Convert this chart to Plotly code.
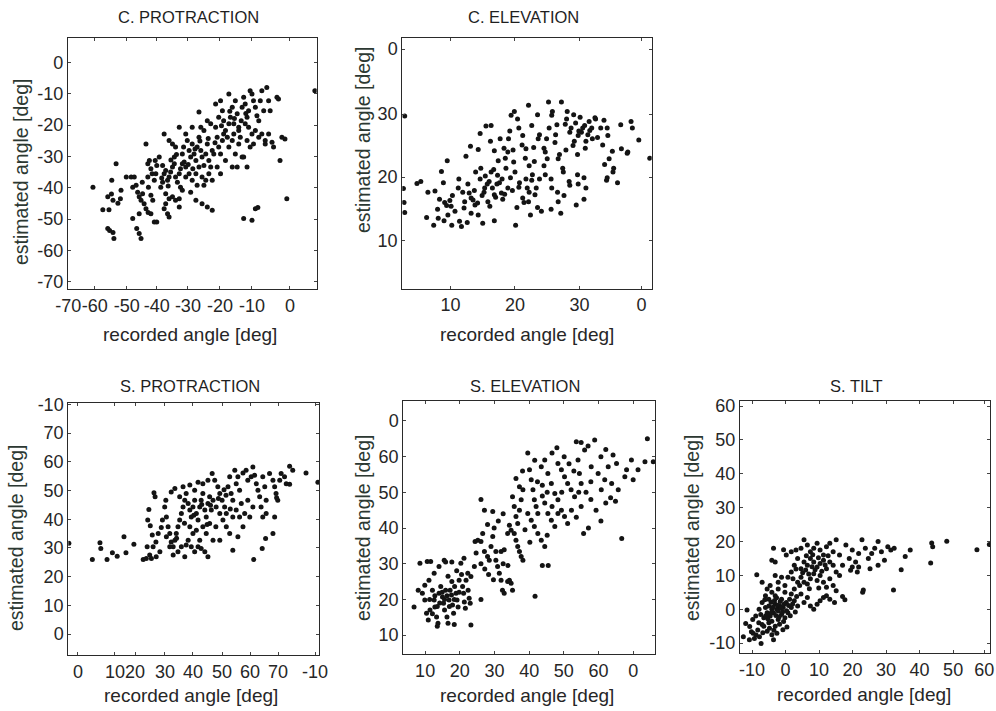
import plotly.graph_objects as go

W, H = 996, 711

# ---------------- data ----------------
c_protraction = [
    (-61.5,-39.8),(-58.3,-47.0),(-56.3,-47.0),(-56.7,-42.9),(-56.7,-53.0),(-56.1,-53.6),(-55.0,-54.3),(-54.7,-56.2),
    (-54.0,-32.3),(-55.4,-37.6),(-55.0,-44.0),(-53.4,-44.9),(-52.4,-40.8),(-50.7,-36.6),(-55.5,-42.0),(-52.6,-43.5),
    (-49.1,-36.6),(-48.1,-36.6),(-48.6,-39.8),(-47.5,-39.2),(-47.0,-41.4),(-46.5,-42.9),(-45.9,-44.0),(-45.4,-41.9),
    (-44.9,-45.1),(-45.5,-38.2),(-46.5,-48.3),(-48.6,-49.8),(-47.3,-53.0),(-46.5,-54.6),(-45.9,-56.2),(-44.3,-26.0),
    (-43.7,-32.3),(-43.2,-31.3),(-42.7,-33.9),(-42.3,-35.5),(-43.7,-36.6),(-43.5,-39.8),(-42.7,-42.4),(-42.1,-44.0),
    (-44.3,-46.7),(-43.6,-47.9),(-42.7,-48.3),(-41.6,-50.9),(-40.8,-50.9),(-41.6,-37.6),(-41.1,-35.5),(-40.8,-32.9),
    (-41.3,-31.3),
    (-40.0,-30.2),(-38.9,-32.9),(-38.4,-35.5),(-37.9,-34.5),(-37.3,-37.6),(-36.8,-36.6),(-36.3,-35.0),(-35.7,-33.4),
    (-35.1,-32.3),(-34.7,-36.6),(-34.1,-38.2),(-33.5,-35.5),(-33.1,-33.9),(-32.5,-32.3),(-39.5,-39.8),(-38.9,-38.2),
    (-37.9,-41.9),(-36.8,-43.5),(-35.7,-42.9),(-34.7,-44.0),(-33.5,-43.5),(-33.1,-39.8),(-32.5,-40.8),(-38.4,-22.8),
    (-36.8,-24.9),(-35.7,-26.0),(-34.7,-27.0),(-33.5,-20.7),(-35.1,-30.2),(-37.9,-45.1),(-37.3,-48.3),(-36.8,-49.3),
    (-38.4,-46.7),(-33.5,-46.1),(-32.5,-29.2),(-32.1,-27.0),
    (-31.4,-22.8),(-30.9,-24.9),(-30.3,-28.1),(-29.8,-30.2),(-29.3,-26.0),(-28.7,-29.2),(-28.1,-31.3),(-27.7,-27.0),
    (-27.1,-15.8),(-27.1,-23.9),(-26.5,-28.1),(-26.1,-30.2),(-25.5,-32.9),(-24.9,-29.2),(-24.4,-26.0),(-23.9,-31.3),
    (-23.3,-33.4),(-22.8,-28.1),(-31.4,-33.4),(-30.3,-35.5),(-29.3,-37.6),(-28.1,-35.5),(-27.1,-33.4),(-26.1,-36.6),
    (-24.9,-37.6),(-23.9,-35.5),(-22.8,-37.6),(-29.8,-41.4),(-28.1,-44.0),(-26.1,-45.1),(-24.4,-46.1),(-22.8,-47.2),
    (-26.5,-20.7),(-25.5,-21.7),(-24.4,-18.6),(-23.3,-19.6),(-29.3,-20.7),(-31.4,-36.6),(-27.7,-39.2),(-25.5,-39.2),
    (-21.7,-13.3),(-20.7,-17.5),(-20.1,-12.2),(-19.5,-15.4),(-19.1,-18.6),(-18.5,-21.7),(-17.9,-23.9),(-17.4,-10.1),
    (-16.9,-17.5),(-16.3,-14.3),(-15.8,-19.6),(-15.3,-12.2),(-14.7,-16.4),(-14.2,-20.7),(-13.7,-23.9),(-13.1,-14.3),
    (-21.7,-20.7),(-21.2,-23.9),(-20.7,-27.0),(-20.1,-29.2),(-19.5,-24.9),(-19.1,-22.8),(-18.5,-31.3),(-17.4,-27.0),
    (-16.3,-24.9),(-15.3,-29.2),(-14.2,-26.0),(-13.1,-30.2),(-21.2,-33.4),(-20.1,-35.5),(-16.3,-33.4),(-14.7,-33.4),
    (-14.2,-21.7),(-17.4,-19.6),(-15.8,-22.8),(-22.3,-29.2),
    (-12.6,-11.1),(-12.1,-13.3),(-11.5,-17.5),(-11.0,-15.4),(-10.5,-9.0),(-9.9,-10.1),(-9.4,-12.2),(-8.8,-14.3),
    (-8.3,-17.0),(-7.7,-18.6),(-7.2,-12.2),(-6.7,-9.0),(-6.1,-15.4),(-5.1,-8.0),(-4.5,-12.2),(-4.0,-15.4),
    (-12.1,-19.6),(-11.0,-20.7),(-9.9,-22.8),(-8.8,-21.7),(-7.7,-23.9),(-6.7,-22.8),(-5.6,-24.9),(-4.5,-22.8),
    (-11.5,-24.9),(-10.5,-27.0),(-9.4,-26.0),(-12.6,-30.2),(-11.5,-33.4),(-9.9,-50.4),(-8.8,-46.7),(-8.0,-46.3),
    (-12.6,-49.8),(-5.6,-26.0),(-3.4,-25.5),
    (-1.8,-11.1),(-1.3,-11.7),(-0.2,-23.9),(0.8,-24.4),(-0.8,-31.3),(1.4,-43.5),(10.5,-9.0),(-2.9,-27.0),
    (-36.2,-31.1),(-34.4,-29.4),(-31.9,-31.8),(-29.1,-33.9),(-26.8,-25.1),(-24.1,-24.3),(-21.9,-25.6),(-19.8,-20.2),
    (-17.1,-15.6),(-15.6,-17.9),(-13.4,-18.6),(-11.9,-16.3),(-39.2,-36.9),(-37.1,-39.4),(-30.6,-32.6),(-28.4,-27.6),
]

c_elevation = [
    (2.9,29.7),(2.7,18.2),(2.8,16.0),(2.9,14.4),(4.8,19.0),(5.4,19.3),(6.5,17.6),(7.6,17.8),(6.3,13.6),(7.4,12.4),
    (8.1,13.5),(8.6,20.9),(9.5,22.6),(8.9,19.1),(8.3,16.5),(8.0,14.9),(9.1,16.0),(9.4,15.5),(9.6,14.0),(9.9,16.3),
    (10.3,17.1),(10.1,15.4),(10.7,14.6),(9.0,13.1),(10.2,12.4),(11.4,13.0),(11.7,12.2),(12.6,12.8),(13.2,14.3),(14.3,14.0),
    (11.2,18.3),(11.3,19.7),(11.9,17.6),(12.2,16.1),(12.1,15.1),(12.7,18.9),(12.9,17.5),(13.2,16.7),(13.5,16.4),(13.8,15.6),
    (12.4,23.3),(13.1,24.9),(14.3,24.4),(14.6,26.9),(15.5,28.1),(16.3,28.2),(16.2,25.7),(16.8,24.2),(13.9,20.8),(14.7,21.4),
    (14.6,19.7),(15.3,18.3),(15.2,17.6),(15.8,16.1),(16.0,19.3),(16.3,20.8),(16.5,18.3),(16.8,17.2),(16.7,21.2),(17.3,20.3),
    (17.2,18.9),(17.9,17.5),(18.1,16.5),(18.0,19.7),(18.6,21.4),(18.9,18.3),(15.0,12.7),(16.8,13.1),(17.7,26.1),(18.3,24.6),
    (18.5,23.0),(18.9,24.0),(19.2,27.3),(19.0,26.1),(19.4,29.8),(19.9,30.4),(20.4,29.2),(20.6,27.8),(21.2,26.6),(21.1,25.1),
    (21.7,24.5),(21.6,23.0),(22.2,21.8),(20.1,12.4),(20.0,20.8),(20.7,19.1),(20.6,18.4),(21.2,16.7),(21.4,16.0),(21.7,19.7),
    (21.9,18.3),(22.2,17.6),(22.1,16.1),(22.7,20.4),(22.6,19.5),(23.3,18.3),(23.1,17.2),(23.8,19.7),(22.4,14.0),(23.5,15.2),
    (24.1,14.6),(25.6,14.9),(22.1,31.4),(23.5,29.9),(22.6,28.2),(23.8,26.7),(23.6,26.1),(24.5,24.6),(24.7,24.0),(25.3,27.8),
    (25.2,31.9),(25.8,30.4),(25.7,29.8),(26.3,26.7),(26.2,25.5),(26.9,23.6),(26.7,22.9),(27.4,21.4),(24.5,21.8),(24.7,20.4),
    (25.6,19.7),(25.7,18.3),(26.6,17.6),(26.7,16.1),(27.6,17.1),(27.1,14.3),(27.2,31.9),(28.1,30.4),(28.0,29.2),(28.7,27.8),
    (28.5,27.1),(29.2,25.7),(29.0,25.0),(29.7,23.6),(29.9,27.3),(29.8,26.6),(30.5,27.8),(30.3,27.1),(31.0,25.7),(30.8,28.2),
    (31.5,28.8),(31.3,26.7),(32.0,26.1),(31.9,27.8),(32.5,29.2),(32.4,29.4),(33.3,27.8),(27.5,20.8),(28.4,19.3),(28.5,18.7),
    (29.7,20.4),(29.8,18.9),(30.7,19.9),(31.0,18.3),(29.5,15.6),(30.7,16.5),(34.3,27.8),(34.4,26.6),(35.1,24.1),(34.6,22.9),
    (33.9,22.0),(34.3,19.9),(34.2,19.5),(35.3,21.4),(35.2,20.8),(35.9,19.1),(36.4,28.3),(36.5,24.5),(37.4,23.8),(37.5,24.0),
    (38.2,27.8),(38.0,28.8),(39.2,25.9),(40.9,23.0),
    (14.9,17.1),(15.7,18.9),(16.1,15.4),(17.0,16.8),(17.6,19.1),(18.4,17.3),(19.3,19.9),(19.6,17.9),(20.3,15.2),(13.7,17.9),
    (14.2,15.9),(15.4,20.2),(17.4,22.6),(19.8,22.4),(23.0,22.5),(25.0,22.9),(27.9,24.3),(29.4,28.6),(30.9,24.6),(31.6,27.4),
    (32.8,26.3),(33.6,25.1),(29.1,29.9),(27.8,28.4),(30.1,29.5),(26.5,28.3),(33.8,29.0),(22.9,24.7),(19.7,24.3),(24.9,26.1),
]

s_protraction = [
    (-4.0,31.6),(4.3,26.0),(7.0,31.8),(7.3,29.8),(9.5,26.0),(11.4,28.3),(13.1,27.1),(15.5,33.9),(16.2,28.3),(19.0,31.3),
    (22.3,26.0),(23.4,26.3),(25.2,26.3),
    (26.1,49.2),(26.5,47.8),(24.3,43.4),(23.9,39.7),(24.8,37.7),(25.5,34.5),(23.7,30.4),(24.6,27.5),(25.8,30.4),(26.9,26.9),
    (28.2,28.7),(26.8,32.1),(27.6,35.0),(28.7,37.1),(29.1,39.7),
    (29.9,44.3),(30.5,40.8),(31.1,37.4),(31.7,35.0),(32.2,32.1),(32.9,30.4),(33.5,32.7),(34.0,35.0),(34.6,37.4),(35.2,39.7),
    (35.8,42.0),(36.4,44.3),(37.0,46.6),(37.5,49.0),(30.5,33.9),(31.7,30.4),(32.9,27.5),(34.6,28.7),(35.8,30.4),(37.0,26.9),
    (37.5,31.0),(30.3,46.6),(32.2,49.5),(33.5,50.7),(35.2,47.8),(36.4,51.3),
    (38.2,45.5),(38.8,43.2),(39.3,40.8),(39.9,44.3),(40.5,46.6),(41.1,42.0),(41.7,39.7),(42.3,44.3),(42.8,46.6),(43.4,49.0),
    (44.1,43.2),(44.6,40.8),(45.2,45.5),(45.8,47.8),(46.4,43.2),(47.0,46.6),(38.8,37.4),(39.9,35.0),(41.1,36.2),(42.3,32.7),
    (43.4,37.4),(44.6,35.0),(45.8,38.5),(38.2,32.7),(39.3,30.4),(40.5,28.7),(41.7,30.4),(42.8,29.8),(44.1,28.7),(45.2,26.9),
    (38.8,51.9),(40.5,50.1),(41.7,52.9),(43.4,52.4),(45.2,53.6),(46.7,55.9),
    (47.6,53.6),(48.7,51.3),(49.4,49.0),(50.2,46.6),(51.1,44.3),(51.7,42.0),(52.3,51.3),(52.9,54.8),(53.4,49.0),(54.0,46.6),
    (54.7,57.1),(55.2,52.4),(55.8,54.8),(56.4,50.1),(48.1,44.3),(49.4,42.0),(50.5,39.7),(51.7,37.4),(52.9,35.0),(54.0,40.8),
    (55.2,43.2),(48.0,37.4),(49.4,32.7),(47.0,32.7),(54.0,29.2),(55.8,33.9),(56.4,40.8),(57.0,45.5),
    (57.6,56.1),(58.7,57.1),(59.3,53.6),(60.5,54.8),(61.1,58.2),(61.7,55.3),(62.3,52.4),(62.9,50.1),(63.5,47.8),(64.6,54.8),
    (65.3,51.3),(65.8,46.6),(64.0,44.3),(64.6,40.8),(65.8,42.0),(61.1,44.3),(59.3,46.6),(58.2,42.0),(60.0,40.8),(57.6,37.4),
    (61.4,26.0),(64.4,29.8),(65.6,33.3),
    (67.0,55.9),(68.2,53.6),(68.8,51.3),(69.3,49.0),(69.9,46.6),(70.6,53.6),(71.1,55.9),(72.3,54.8),(72.9,52.4),(74.1,58.5),
    (74.1,52.2),(75.2,57.1),(68.8,40.8),(68.2,35.0),(69.5,47.5),(79.9,56.1),(84.1,52.9),
    (40.2,41.4),(43.0,45.1),(46.1,44.9),(48.9,47.2),(51.6,48.4),(53.1,43.6),(36.9,38.6),(34.1,33.4),(44.9,38.2),(50.9,50.3),
]

s_elevation = [
    (6.8,17.9),(8.0,22.6),(8.5,30.1),(9.2,21.7),(9.9,19.8),(10.4,16.1),(10.9,14.2),(11.4,17.0),(10.6,30.6),(11.6,30.6),
    (12.1,22.6),(12.6,19.8),(12.8,17.9),(13.3,15.1),(13.7,13.3),(14.0,21.7),(14.5,23.6),(15.0,20.7),(15.3,18.9),(15.6,17.0),
    (15.9,22.6),(16.3,15.1),(16.6,13.3),(16.9,19.8),(17.2,22.6),(17.6,21.2),(17.9,18.4),(18.2,16.1),(18.5,23.6),(18.9,21.7),
    (19.2,19.8),(19.5,17.9),(19.8,25.4),(20.3,30.1),(20.8,23.6),(21.1,21.7),(21.3,19.3),(21.6,17.5),(21.8,25.4),(22.3,27.3),
    (22.4,22.6),(22.7,20.3),(23.0,18.9),(23.2,12.8),(9.9,24.0),(11.1,25.4),(12.6,27.3),(14.0,29.2),(15.5,31.0),(12.8,21.0),
    (14.2,19.0),(14.9,22.0),(15.6,20.0),(16.3,21.0),(17.0,18.0),(13.5,18.0),(12.1,16.0),(11.3,20.0),(18.4,20.0),(19.8,22.0),
    (17.7,25.0),(16.6,26.5),(19.1,28.0),(20.5,27.0),(21.2,31.5),(17.7,30.5),(15.9,30.5),(13.5,12.5),(18.4,13.0),
    (23.2,26.4),(24.2,29.2),(24.4,36.2),(25.2,36.6),(26.1,36.2),(26.6,38.5),(27.1,33.4),(28.0,32.0),(28.5,31.0),(29.0,34.8),
    (29.5,37.6),(29.5,44.6),(30.4,31.0),(30.9,29.2),(31.4,27.3),(31.9,25.4),(32.3,22.6),(32.8,21.7),(33.8,25.0),(34.3,25.4),
    (34.8,24.5),(35.2,22.6),(30.4,33.4),(31.9,33.4),(32.8,33.9),(33.8,38.5),(34.3,40.8),(34.8,39.4),(35.7,38.5),(36.2,36.6),
    (36.7,34.8),(37.2,33.4),(37.7,32.0),(38.2,31.0),(27.1,45.0),(26.1,48.0),(28.0,41.0),(29.9,40.0),(31.1,42.0),(32.5,44.0),
    (24.7,33.0),(26.1,30.0),(27.2,28.5),(28.3,27.0),(29.7,25.5),(26.1,20.0),(41.7,20.9),(43.8,29.5),(45.5,29.5),
    (35.2,48.8),(36.2,53.9),(37.2,51.6),(35.7,46.0),(36.2,43.2),(36.7,41.3),(37.2,45.0),(37.7,47.9),(38.2,50.7),(39.6,61.0),
    (40.1,56.3),(40.6,53.5),(41.1,50.7),(41.5,47.9),(42.0,46.0),(42.5,44.1),(39.6,44.1),(40.6,42.2),(41.5,40.4),(42.5,38.5),
    (43.5,36.6),(44.5,34.8),(43.5,57.2),(44.5,59.1),(45.4,55.3),(46.4,52.5),(47.4,49.7),(48.3,47.9),(49.3,45.0),(50.2,43.2),
    (51.1,41.3),(44.5,47.0),(45.4,44.1),(46.4,42.2),(47.4,40.4),(48.3,44.1),(43.8,52.0),(45.2,50.0),(46.6,46.0),(48.3,58.1),
    (49.3,56.3),(50.2,54.4),(51.1,52.5),(52.1,50.7),(53.1,48.8),(53.6,64.2),(54.1,59.1),(54.5,55.3),(55.0,52.5),(56.0,61.9),
    (57.0,63.0),(57.9,57.2),(58.9,64.7),(59.9,55.3),(60.8,50.7),(61.8,53.5),(62.8,57.2),(63.8,52.5),(65.2,58.1),(65.7,50.7),
    (67.6,54.4),(68.1,56.3),(69.5,59.1),(70.0,53.5),(71.4,56.3),(73.4,58.6),(74.1,65.0),(75.8,58.6),(52.2,45.0),(53.6,43.0),
    (55.0,46.0),(56.4,50.0),(57.8,48.0),(59.3,45.0),(60.7,42.0),(57.1,40.0),(55.7,38.5),(62.1,47.0),(63.5,48.5),(66.7,37.1),
    (64.9,47.5),(51.5,58.0),(52.9,56.0),(49.4,50.0),(42.4,53.0),(43.8,49.0),(38.1,56.0),(41.6,59.0),(46.6,61.0),(48.0,62.5),
    (50.1,60.0),(55.0,64.0),(60.7,60.0),(62.1,62.0),(64.2,60.5),(57.8,53.0),(54.3,50.0),(38.8,39.5),(40.2,36.0),(33.9,29.5),
    (32.5,30.0),(45.2,38.0),
]

s_tilt = [
    (-12.6,-8.1),(-11.9,-4.2),(-11.5,-0.2),(-10.7,-5.1),(-10.2,-6.6),(-9.7,-7.1),(-9.3,-8.6),(-8.8,-7.6),(-8.3,-6.1),(-7.8,-8.1),
    (-7.3,-10.1),(-8.6,10.2),(-10.8,-9.0),(-9.8,-3.0),(-8.9,-2.0),(-7.9,0.0),(-7.0,2.0),(-6.0,4.0),(-5.0,3.0),(-4.1,5.0),
    (-3.1,4.0),(-2.2,6.0),(-7.4,-1.5),(-6.5,-2.5),(-5.5,-1.0),(-4.6,-2.0),(-3.6,-1.0),(-2.6,0.0),(-1.7,1.0),(-0.7,0.5),
    (0.2,2.0),(1.2,3.0),(-6.0,0.5),(-5.0,1.0),(-4.1,0.0),(-3.1,1.5),(-2.2,-0.5),(-1.2,-1.5),(-0.2,-2.5),(0.7,-1.0),
    (1.7,0.5),(-5.0,-4.0),(-4.1,-3.5),(-3.1,-5.0),(-2.2,-3.0),(-6.5,-5.0),(-5.5,-6.5),(-4.1,-7.5),(-3.6,-9.0),(-7.0,-4.5),
    (-1.2,3.0),(-0.2,5.0),(1.7,4.5),(2.6,2.5),(3.6,1.0),(-4.6,7.0),(-4.1,14.5),(-3.1,14.0),(-3.6,18.0),(-3.1,10.0),
    (-1.2,9.5),(-2.2,8.0),(-7.0,8.0),(-5.5,6.0),(-0.2,7.0),(0.7,9.5),(1.7,11.0),(2.6,13.0),(3.6,15.0),(-0.6,17.6),
    (0.2,16.0),(1.7,17.0),(3.1,17.5),(4.6,18.0),(5.5,20.5),(6.5,19.0),(7.4,17.0),(8.4,18.0),(9.4,19.5),(10.3,17.5),
    (11.3,16.0),(12.2,18.5),(13.2,19.5),(14.2,17.0),(15.1,20.5),(16.1,16.0),(4.6,12.0),(5.5,14.0),(6.5,13.0),(7.4,15.0),
    (8.4,14.0),(9.4,12.5),(10.3,13.5),(11.3,14.5),(12.2,12.0),(13.2,14.0),(14.2,13.0),(15.1,11.0),(3.6,8.0),(4.6,9.5),
    (5.5,8.0),(6.5,7.5),(7.4,9.0),(8.4,10.5),(9.4,8.5),(10.3,10.0),(11.3,8.0),(12.2,6.5),(13.2,9.0),(14.2,7.0),
    (15.1,5.5),(2.6,6.0),(2.2,9.0),(16.1,10.0),(17.0,13.0),(5.5,2.0),(7.4,1.0),(8.4,0.0),(9.4,1.5),(10.3,2.5),
    (11.3,3.5),(12.2,4.0),(13.2,3.0),(14.6,2.0),(6.5,3.5),(4.6,4.5),(17.7,2.8),(17.0,3.8),(19.0,15.0),(19.9,17.5),
    (20.9,14.0),(21.8,16.5),(22.8,20.5),(23.8,18.0),(24.7,15.0),(25.7,16.5),(26.6,18.0),(27.6,20.0),(28.6,17.0),(29.5,14.5),
    (30.5,18.5),(31.4,17.5),(32.4,18.0),(23.2,5.7),(23.0,5.0),(19.4,11.5),(21.4,11.0),(32.2,5.7),(34.5,11.7),(35.7,15.6),
    (37.2,17.5),(43.3,13.7),(43.6,19.6),(43.9,18.5),(48.1,20.1),(57.1,17.6),(60.8,19.1),(18.0,19.0),(19.9,12.5),(25.2,12.0),
    (27.6,13.0),(21.8,12.5),
    (-5.3,-2.8),(-4.4,-1.2),(-3.8,0.6),(-2.9,-1.8),(-2.4,1.2),(-1.9,-2.2),(-1.4,0.4),(-0.9,-0.8),(-0.4,1.6),(0.3,-0.4),
    (0.9,1.1),(1.4,-1.9),(-3.3,2.6),(-2.7,3.4),(-1.6,2.3),(-0.6,-3.6),(0.4,-5.2),(-1.8,-4.4),(-4.8,-5.6),(-5.9,-1.9),
    (-6.2,2.8),(2.1,1.6),(2.9,-0.8),(3.3,3.8),(-3.5,-6.2),(-2.6,-7.1),(-0.8,-6.0),(-6.8,-6.9),(-8.0,-4.0),(-4.3,2.1),
    (5.1,10.8),(6.0,11.6),(6.9,10.4),(7.9,12.6),(8.8,11.7),(9.8,15.2),(10.8,11.2),(11.8,13.1),(12.7,15.8),(8.1,16.1),
    (6.2,15.8),(7.1,6.1),(9.9,6.3),(4.2,7.0),(3.1,11.9),
]

titles = ["C. PROTRACTION", "C. ELEVATION", "S. PROTRACTION", "S. ELEVATION", "S. TILT"]

x_ticks = [
    ([-69.5, -60.9, -50.5, -40.8, -30.7, -20.3, -9.9, 2.4], ["-70", "-60", "-50", "-40", "-30", "-20", "-10", "0"]),
    ([10, 20, 30, 39.6], ["10", "20", "30", "0"]),
    ([-0.8, 12.3, 19.4, 30, 39.9, 50.2, 60.1, 70, 83.1], ["0", "10", "20", "30", "40", "50", "60", "70", "-10"]),
    ([10, 20, 30, 40, 50, 60, 70], ["10", "20", "30", "40", "50", "60", "0"]),
    ([-10, 0, 10, 20, 30, 40, 50, 59.3], ["-10", "0", "10", "20", "30", "40", "50", "60"]),
]
y_ticks = [
    ([0, -10, -20, -30, -40, -50, -60, -70], ["0", "-10", "-20", "-30", "-40", "-50", "-60", "-70"]),
    ([10, 20, 30, 40.3], ["10", "20", "30", "0"]),
    ([0, 10, 20, 30, 40, 50, 60, 70, 80], ["0", "10", "20", "30", "40", "50", "60", "70", "-10"]),
    ([10, 20, 30, 40, 50, 60, 70], ["10", "20", "30", "40", "50", "60", "0"]),
    ([-10, 0, 10, 20, 30, 40, 50, 60], ["-10", "0", "10", "20", "30", "40", "50", "60"]),
]
x_ranges = [[-69.6, 11.1], [2.53, 41.2], [-4.2, 84.6], [3.7, 76.3], [-13.6, 61.0]]
y_ranges = [[-72.4, 7.8], [2.33, 42.0], [-7.3, 80.5], [4.7, 75.6], [-12.9, 61.5]]

# ---------------- layout geometry (pixels) ----------------
boxes = [  # left, right, top, bottom
    (68.0, 316.7, 38.0, 289.3),
    (402.3, 651.7, 38.3, 288.7),
    (68.3, 319.3, 403.0, 655.0),
    (403.3, 655.0, 401.0, 654.0),
    (740.0, 990.0, 401.0, 653.0),
]
title_pos = [(188, 17.5), (523, 17.5), (190, 385.5), (525, 385.5), (856, 385.5)]
xlab_pos = [(190, 334), (527, 334), (191, 695), (527, 695), (864, 694)]
ylab_pos = [(21, 172), (363, 140), (16, 538), (363, 528), (692, 528)]

FONT = "Liberation Sans, Arial, sans-serif"
TXT = "#262626"
series = [c_protraction, c_elevation, s_protraction, s_elevation, s_tilt]

fig = go.Figure()
layout = dict(
    width=W, height=H, autosize=False,
    margin=dict(l=0, r=0, t=0, b=0, pad=0),
    paper_bgcolor="white", plot_bgcolor="white",
    showlegend=False,
    font=dict(family=FONT, color=TXT),
)
annotations = []
for i, pts in enumerate(series):
    n = "" if i == 0 else str(i + 1)
    fig.add_trace(go.Scatter(
        x=[p[0] for p in pts], y=[p[1] for p in pts],
        mode="markers", xaxis="x" + n, yaxis="y" + n,
        marker=dict(size=5, color="#141414", line=dict(width=0)),
        hoverinfo="x+y",
    ))
    l, r, t, b = boxes[i]
    axis_common = dict(
        showline=True, linecolor="#2a2a2a", linewidth=1.1, mirror="ticks",
        ticks="inside", ticklen=3, tickwidth=1, tickcolor="#444",
        showgrid=False, zeroline=False, automargin=False, tickangle=0,
        ticklabeloverflow="allow",
        tickfont=dict(family=FONT, size=18, color=TXT),
        tickmode="array",
    )
    layout["xaxis" + n] = dict(
        axis_common, domain=[l / W, r / W], anchor="y" + n,
        range=x_ranges[i], tickvals=x_ticks[i][0], ticktext=x_ticks[i][1],
    )
    layout["yaxis" + n] = dict(
        axis_common, domain=[1 - b / H, 1 - t / H], anchor="x" + n,
        range=y_ranges[i], tickvals=y_ticks[i][0], ticktext=y_ticks[i][1],
    )
    tx, ty = title_pos[i]
    annotations.append(dict(text=titles[i], x=tx / W, y=1 - ty / H, xref="paper", yref="paper",
                            showarrow=False, xanchor="center", yanchor="middle",
                            font=dict(family=FONT, size=16.5, color="#1f1f1f")))
    ax, ay = xlab_pos[i]
    annotations.append(dict(text="recorded angle [deg]", x=ax / W, y=1 - ay / H, xref="paper", yref="paper",
                            showarrow=False, xanchor="center", yanchor="middle",
                            font=dict(family=FONT, size=19, color=TXT)))
    yx, yy = ylab_pos[i]
    annotations.append(dict(text="estimated angle [deg]", x=yx / W, y=1 - yy / H, xref="paper", yref="paper",
                            showarrow=False, xanchor="center", yanchor="middle", textangle=-90,
                            font=dict(family=FONT, size=19.5, color="#2c3832")))
layout["annotations"] = annotations
fig.update_layout(**layout)
fig.write_html(
    "out.html",
    config={"displayModeBar": False, "staticPlot": False},
    post_script="document.body.style.margin='0';document.body.style.overflow='hidden';",
)
